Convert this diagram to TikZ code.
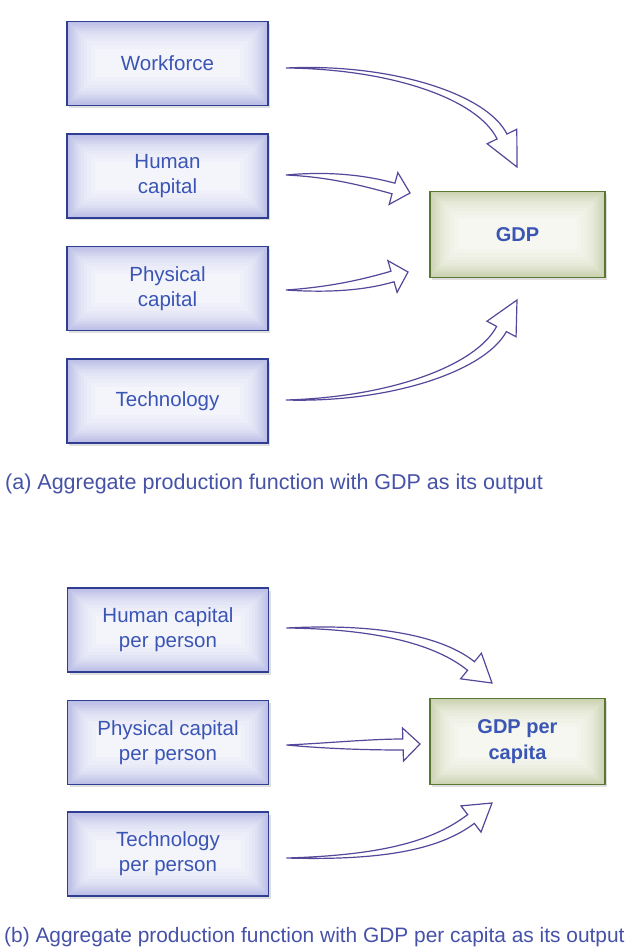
\documentclass[tikz,border=0pt]{standalone}
\usepackage{fontspec}
\setmainfont{Liberation Sans}
\usetikzlibrary{calc,shadows}
\definecolor{boxblue}{HTML}{2F3E92}
\definecolor{txtblue}{HTML}{3A55B4}
\definecolor{capblue}{HTML}{4652A8}
\definecolor{bglowA}{HTML}{BCC0E6}
\definecolor{bglowZ}{HTML}{F4F4FB}
\definecolor{boxgreen}{HTML}{5A7634}
\definecolor{gglowA}{HTML}{CDD4B4}
\definecolor{gglowZ}{HTML}{F6F7F0}
\definecolor{arrowpurple}{HTML}{55479A}
\tikzset{
  glow/.style 2 args={path picture={
    \foreach \d/\p in {2/92,4/80,6/68,8/57,10/47,12/38,14/30,17/22,20/14,24/7,28/0}{
      \fill[#1!\p!#2] ([shift={(\d pt,-\d pt)}]path picture bounding box.north west)
        rectangle ([shift={(-\d pt,\d pt)}]path picture bounding box.south east);
    }
  }},
  inbox/.style={draw=boxblue, line width=1.8pt, fill=bglowA,
    minimum width=201pt, minimum height=84pt, inner sep=0pt, align=center,
    text=txtblue, font=\fontsize{20.5}{25}\selectfont,
    drop shadow={shadow xshift=2pt, shadow yshift=-2.5pt, opacity=0.25},
    glow={bglowA}{bglowZ}},
  outbox/.style={draw=boxgreen, line width=1.8pt, fill=gglowA,
    minimum width=175pt, minimum height=86pt, inner sep=0pt, align=center,
    text=txtblue, font=\bfseries\fontsize{20}{26}\selectfont,
    drop shadow={shadow xshift=2pt, shadow yshift=-2.5pt, opacity=0.25},
    glow={gglowA}{gglowZ}},
  caption/.style={anchor=base west, inner sep=0pt, text=capblue,
    font=\fontsize{21.5}{26}\selectfont},
  harrow/.style={draw=arrowpurple, line width=1.2pt, fill=white, line join=miter},
}
% #1 tail, #2 first control, #3 second control, #4 head base centre, #5 tip
\newcommand{\blockarrow}[5]{%
  \draw[harrow] (#1) .. controls ($(#2)!3pt!-90:(#1)$) and ($(#3)!5.5pt!90:(#4)$) ..
    ($(#4)!5.5pt!90:(#5)$) -- ($(#4)!16.5pt!90:(#5)$) -- (#5) --
    ($(#4)!16.5pt!-90:(#5)$) -- ($(#4)!5.5pt!-90:(#5)$) ..
    controls ($(#3)!5.5pt!-90:(#4)$) and ($(#2)!3pt!90:(#1)$) .. cycle;}
\begin{document}
\begin{tikzpicture}[x=1pt, y=-1pt]
\fill[white] (0,0) rectangle (631,949);
\useasboundingbox (0,0) rectangle (631,949);

% ---- part (a) ----
\node[inbox] (wf)   at (167.5,63.5) {Workforce};
\node[inbox] (hc)   at (167.5,176)  {Human\\capital};
\node[inbox] (pc)   at (167.5,288.5){Physical\\capital};
\node[inbox] (tech) at (167.5,401)  {Technology};
\node[outbox] (gdp) at (517.5,234.5){GDP};

\coordinate (s1) at ($(wf.east)+(17,4.5)$);
\coordinate (e1) at (502,136.5);
\coordinate (t1) at (517,167);
\coordinate (s2) at ($(hc.east)+(17,-1)$);
\coordinate (e2) at (393.5,188.5);
\coordinate (t2) at (410,193);
\coordinate (s3) at ($(pc.east)+(17,1.5)$);
\coordinate (e3) at (392.5,276.5);
\coordinate (t3) at (408,272);
\coordinate (s4) at ($(tech.east)+(17,-1)$);
\coordinate (e4) at (501.5,329);
\coordinate (t4) at (517,300);

\blockarrow{s1}{390,66}{482,96}{e1}{t1}
\blockarrow{s2}{330,174}{364.5,180.6}{e2}{t2}
\blockarrow{s3}{330,290}{363.7,284.9}{e3}{t3}
\blockarrow{s4}{390,400}{480.3,368.6}{e4}{t4}

\node[caption] (capa) at (5,489) {(a) Aggregate production function with GDP as its output};

% ---- part (b) ----
\node[inbox] (hcp) at (168,630)   {Human capital\\per person};
\node[inbox] (pcp) at (168,742.5) {Physical capital\\per person};
\node[inbox] (tcp) at (168,854)   {Technology\\per person};
\node[outbox] (gpc) at (517.5,741.5) {GDP per\\capita};

\coordinate (s5) at ($(hcp.east)+(17,-2)$);
\coordinate (e5) at (471,666);
\coordinate (t5) at (492,683);
\coordinate (s6) at ($(pcp.east)+(17,2.5)$);
\coordinate (e6) at (403,744.5);
\coordinate (t6) at (420,744);
\coordinate (s7) at ($(tcp.east)+(17,4)$);
\coordinate (e7) at (471,819);
\coordinate (t7) at (492,803);

\blockarrow{s5}{380,626}{440,641}{e5}{t5}
\blockarrow{s6}{330,746}{370,744.5}{e6}{t6}
\blockarrow{s7}{390,858}{439,843}{e7}{t7}

\node[caption, font=\fontsize{20.9}{26}\selectfont] (capb) at (4,942) {(b) Aggregate production function with GDP per capita as its output};
\end{tikzpicture}
\end{document}
